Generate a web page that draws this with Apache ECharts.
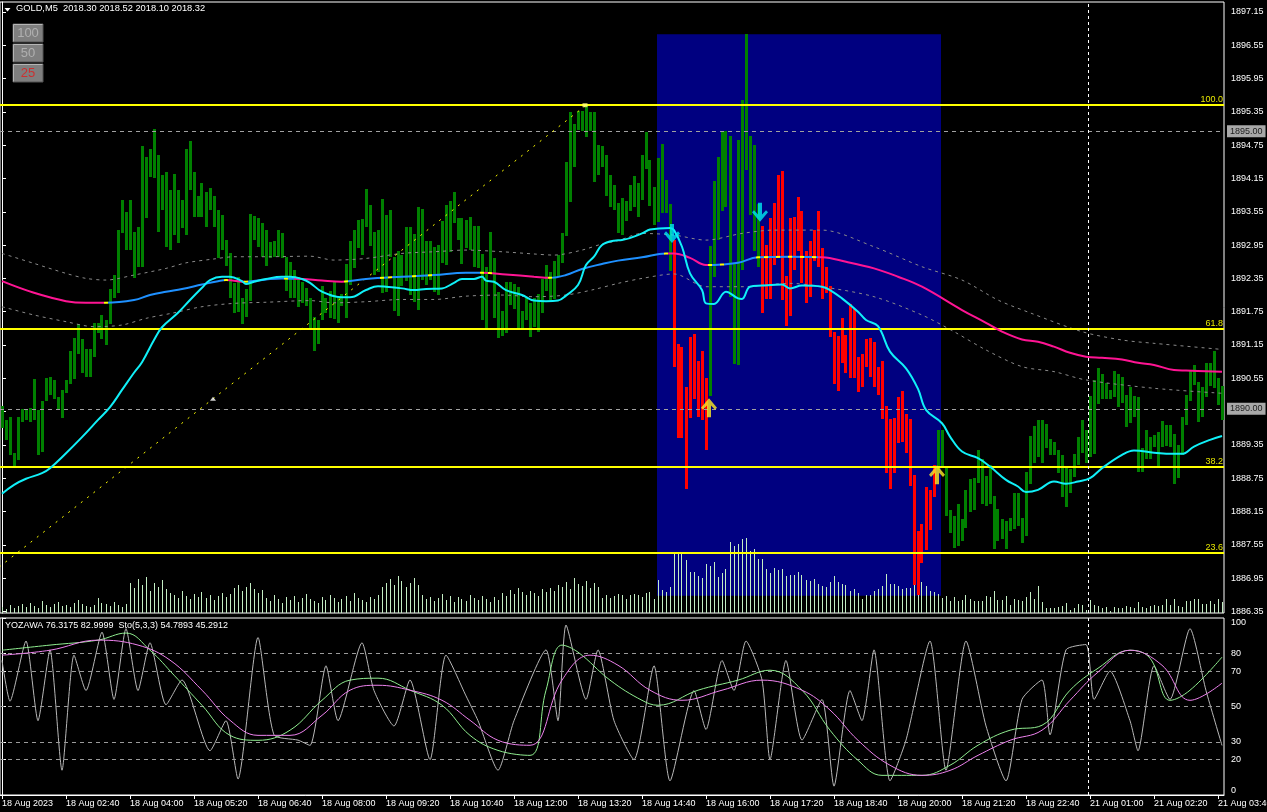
<!DOCTYPE html>
<html><head><meta charset="utf-8">
<script src="https://cdn.jsdelivr.net/npm/echarts@6/dist/echarts.min.js"></script>
<style>html,body{margin:0;padding:0;background:#000;overflow:hidden}#c{width:1267px;height:812px}</style>
</head><body><div id="c"></div>
<script>
// ---------------- DATA ----------------
const barHigh = [
1890.05,1889.80,1889.86,1889.20,1889.86,1889.99,1889.98,1890.01,1890.53,1889.98,
1890.14,1890.56,1890.58,1890.52,1890.22,1890.34,1890.52,1891.04,1891.28,1891.52,
1891.25,1891.07,1891.07,1891.54,1891.55,1891.69,1891.60,1892.15,1892.42,1893.22,
1893.77,1893.55,1893.76,1893.19,1893.28,1894.74,1894.54,1894.68,1895.04,1894.57,
1894.21,1894.27,1893.94,1894.23,1893.95,1893.77,1894.68,1894.83,1894.27,1893.83,
1894.07,1893.91,1893.97,1893.83,1893.59,1893.49,1893.05,1892.80,1892.26,1892.38,
1891.99,1892.15,1893.51,1893.47,1893.43,1893.34,1893.22,1893.01,1893.02,1893.22,
1893.16,1892.74,1892.65,1892.51,1892.38,1892.28,1892.18,1892.00,1891.66,1891.60,
1892.21,1891.99,1892.12,1892.29,1892.02,1892.07,1892.61,1893.02,1893.22,1893.40,
1893.42,1893.96,1893.67,1893.19,1893.22,1893.78,1893.49,1893.58,1892.74,1892.85,
1892.77,1893.28,1893.28,1893.15,1893.64,1893.60,1893.02,1893.02,1892.92,1892.95,
1893.38,1893.67,1893.75,1893.91,1893.44,1893.43,1893.40,1893.46,1893.29,1893.29,
1892.79,1892.56,1893.19,1892.71,1892.11,1891.76,1892.29,1892.29,1892.24,1892.20,
1891.76,1891.99,1891.91,1892.00,1892.07,1892.34,1892.59,1892.47,1892.66,1892.77,
1893.16,1894.45,1895.35,1895.13,1895.37,1895.37,1895.47,1895.35,1895.35,1894.75,
1894.73,1894.57,1894.21,1894.03,1893.71,1893.79,1893.75,1894.03,1894.19,1894.06,
1894.57,1894.98,1894.49,1893.99,1894.52,1894.77,1894.12,1893.69,1893.04,1891.16,
1891.11,1890.39,1891.29,1891.34,1890.86,1891.04,1890.55,1892.93,1894.11,1894.54,
1894.98,1895.01,1894.91,1892.63,1894.85,1895.56,1896.76,1894.91,1894.75,1893.69,
1893.29,1892.96,1893.43,1893.71,1894.21,1894.29,1892.39,1893.43,1893.45,1893.82,
1893.56,1892.85,1893.03,1893.23,1893.56,1892.89,1892.56,1892.21,1891.39,1891.31,
1891.64,1891.33,1891.89,1891.79,1890.93,1890.99,1891.26,1891.27,1891.21,1890.76,
1890.86,1890.05,1889.81,1889.83,1890.21,1890.33,1889.91,1889.81,1888.81,1887.79,
1887.93,1888.59,1888.54,1888.99,1889.61,1889.62,1888.97,1888.18,1888.07,1888.28,
1888.01,1888.54,1888.74,1888.76,1889.26,1889.09,1888.79,1888.99,1888.43,1888.20,
1888.02,1887.98,1888.03,1888.48,1888.48,1888.03,1888.87,1889.51,1889.69,1889.80,
1889.79,1889.73,1889.45,1889.40,1889.25,1889.17,1888.93,1888.91,1889.19,1889.50,
1889.80,1889.62,1890.23,1890.52,1890.73,1890.63,1890.46,1890.34,1890.69,1890.63,
1890.57,1890.24,1890.39,1890.23,1890.21,1889.30,1889.62,1889.50,1889.53,1889.58,
1889.78,1889.71,1889.70,1889.54,1889.34,1889.85,1890.25,1890.68,1890.79,1890.49,
1890.39,1890.82,1890.83,1891.05,1890.55,1890.41];
const barLow = [
1889.65,1889.44,1889.17,1888.96,1889.08,1889.77,1889.80,1889.76,1889.80,1889.17,
1889.23,1890.14,1890.25,1890.17,1889.98,1889.83,1890.29,1890.44,1890.53,1890.98,
1890.64,1890.58,1890.58,1890.94,1891.37,1891.25,1891.15,1891.52,1892.00,1892.08,
1893.17,1892.86,1892.86,1892.35,1892.56,1892.56,1893.43,1894.18,1894.15,1893.19,
1893.58,1892.92,1892.87,1893.13,1892.98,1893.25,1893.13,1893.94,1893.46,1893.45,
1893.45,1893.27,1893.58,1893.27,1892.71,1892.87,1892.57,1892.00,1891.73,1891.75,
1891.52,1891.66,1891.94,1893.05,1892.92,1892.74,1892.57,1892.71,1892.74,1892.74,
1892.71,1892.12,1892.00,1892.00,1891.84,1891.90,1891.85,1891.45,1891.04,1891.17,
1891.60,1891.73,1891.63,1891.61,1891.54,1891.85,1891.64,1892.23,1892.54,1892.90,
1892.77,1893.28,1892.93,1892.42,1892.47,1892.09,1892.11,1892.74,1891.76,1891.67,
1892.21,1892.30,1892.05,1891.93,1891.78,1892.32,1892.23,1892.32,1892.11,1892.05,
1892.62,1892.60,1892.83,1893.34,1893.04,1892.61,1892.90,1892.86,1892.56,1892.54,
1891.60,1891.43,1892.45,1891.63,1891.28,1891.31,1891.36,1891.87,1891.80,1891.43,
1891.43,1891.60,1891.30,1891.48,1891.38,1891.73,1892.12,1891.96,1891.97,1892.38,
1892.62,1893.12,1893.73,1894.36,1895.02,1895.01,1894.89,1895.01,1894.08,1894.21,
1894.36,1893.84,1893.64,1893.58,1893.17,1893.14,1893.39,1893.57,1893.64,1893.46,
1893.76,1894.33,1893.66,1893.31,1893.36,1893.53,1893.53,1892.48,1890.75,1889.47,
1889.47,1888.56,1889.83,1890.18,1889.86,1889.79,1889.25,1890.23,1892.37,1893.04,
1893.56,1893.63,1892.01,1890.81,1890.79,1892.51,1894.31,1893.49,1892.84,1892.55,
1891.73,1891.98,1891.98,1892.59,1892.75,1891.96,1891.49,1891.67,1892.51,1892.84,
1892.26,1891.91,1892.01,1892.66,1892.56,1891.98,1892.09,1891.29,1890.45,1890.33,
1890.83,1890.65,1890.56,1890.56,1890.31,1890.39,1890.75,1890.57,1890.39,1890.24,
1889.81,1888.85,1888.56,1888.85,1889.38,1889.41,1889.21,1888.61,1886.83,1886.64,
1887.23,1887.46,1887.81,1888.41,1888.90,1888.96,1888.07,1887.77,1887.50,1887.52,
1887.62,1887.86,1888.14,1888.17,1888.67,1888.28,1888.24,1888.28,1887.47,1887.61,
1887.65,1887.47,1887.79,1887.83,1887.88,1887.58,1887.70,1888.64,1889.03,1889.14,
1889.02,1889.29,1889.17,1889.16,1888.85,1888.42,1888.23,1888.49,1888.78,1888.98,
1889.21,1889.03,1889.13,1889.19,1890.09,1890.17,1890.17,1890.17,1890.21,1890.04,
1890.10,1889.67,1889.74,1889.85,1888.87,1888.86,1889.09,1889.09,1889.32,1888.96,
1889.32,1889.33,1889.31,1888.64,1888.75,1889.17,1889.70,1890.14,1890.43,1889.76,
1889.86,1890.22,1890.41,1890.38,1890.07,1889.80];
// bar index ranges painted as bearish (red) by the signal indicator
const redRanges = [[168,176],[190,233]];
const volumes = [
60,40,80,50,70,90,60,100,70,50,120,80,60,90,110,70,80,60,100,130,90,70,60,80,150,100,90,70,110,80,60,90,
300,250,340,280,360,220,300,260,330,240,
200,180,150,220,170,140,190,160,210,150,180,130,170,200,160,190,
250,280,220,260,300,240,200,230,
150,120,180,140,100,160,130,170,110,150,190,140,120,100,160,130,180,150,110,140,170,120,200,150,130,110,160,140,180,
260,300,340,280,370,320,260,300,350,280,
180,140,160,120,150,190,130,170,110,160,140,120,180,150,130,170,140,110,160,130,
200,170,230,190,250,210,180,220,200,170,240,210,
250,220,280,260,310,240,350,290,270,320,250,300,260,
152,182,152,171,189,182,145,182,189,182,
163,200,215,145,330,226,215,263,607,589,
607,529,411,411,374,348,492,474,511,363,
400,441,714,670,689,744,755,622,640,541,
541,441,400,455,430,441,367,385,385,411,
381,330,319,337,293,274,263,311,374,307,
293,282,219,245,196,145,182,182,219,245,
274,393,293,293,270,237,252,252,404,455,
307,274,219,208,189,
150,170,120,160,120,130,180,140,120,120,120,170,160,220,130,130,170,80,140,130,
120,160,210,140,270,110,50,50,50,60,70,100,30,50,90,80,30,130,80,70,
50,60,20,60,50,50,70,60,50,110,60,50,70,80,70,80,140,80,140,70,
60,120,120,140,140,90,90,120,90,140,110];
const slowMA = [[0,1892.30],[8,1892.09],[16,1891.94],[21,1891.91],[26,1891.91],[33,1891.96],[37,1892.05],[41,1892.11],[45,1892.16],[50,1892.24],[54,1892.30],[56,1892.32],[61,1892.29],[66,1892.33],[70,1892.35],[75,1892.34],[80,1892.31],[85,1892.29],[91,1892.34],[100,1892.38],[108,1892.41],[116,1892.45],[120,1892.45],[126,1892.42],[133,1892.38],[137,1892.36],[141,1892.41],[145,1892.52],[150,1892.61],[154,1892.67],[160,1892.73],[166,1892.80],[168,1892.80],[172,1892.72],[176,1892.59],[180,1892.60],[184,1892.63],[189,1892.73],[197,1892.74],[205,1892.73],[211,1892.65],[218,1892.53],[224,1892.38],[230,1892.20],[240,1891.78],[246,1891.55],[250,1891.39],[255,1891.25],[259,1891.21],[263,1891.12],[267,1891.01],[271,1890.94],[275,1890.92],[280,1890.89],[284,1890.83],[288,1890.79],[293,1890.70],[296,1890.69],[305,1890.67]];
const slowTrend = [[0,26,'down'],[26,56,'up'],[56,61,'down'],[61,73,'up'],[73,86,'down'],[86,120,'up'],[120,137,'down'],[137,166,'up'],[166,177,'down'],[177,204,'up'],[204,306,'down']];
const slowFlips = [26,56,61,71,86,95,97,103,107,120,122,137,166,177,180,189,191,194,197,200,203];
const fastMA = [[0,1888.47],[3,1888.63],[6,1888.74],[10,1888.84],[12,1888.93],[16,1889.20],[20,1889.49],[24,1889.80],[27,1890.03],[30,1890.34],[33,1890.65],[35,1890.84],[38,1891.24],[40,1891.47],[44,1891.73],[47,1891.96],[50,1892.18],[52,1892.32],[55,1892.38],[57,1892.38],[60,1892.30],[61,1892.25],[63,1892.29],[66,1892.34],[70,1892.38],[72,1892.38],[75,1892.34],[77,1892.27],[80,1892.11],[85,1892.01],[87,1892.01],[91,1892.14],[94,1892.21],[96,1892.20],[100,1892.17],[103,1892.14],[106,1892.16],[110,1892.17],[113,1892.27],[115,1892.34],[118,1892.34],[120,1892.38],[121,1892.31],[123,1892.29],[126,1892.14],[130,1892.05],[133,1891.95],[136,1891.94],[139,1891.95],[141,1892.04],[144,1892.23],[146,1892.59],[148,1892.74],[150,1892.95],[153,1893.03],[155,1893.04],[160,1893.16],[162,1893.23],[167,1893.26],[168,1893.22],[170,1892.92],[172,1892.44],[175,1892.14],[176,1891.90],[178,1891.89],[181,1892.11],[184,1891.99],[185,1891.98],[187,1892.20],[190,1892.22],[195,1892.24],[197,1892.17],[200,1892.22],[205,1892.20],[207,1892.14],[210,1891.99],[214,1891.75],[216,1891.60],[219,1891.49],[222,1891.03],[226,1890.73],[229,1890.36],[231,1889.98],[235,1889.74],[237,1889.50],[240,1889.23],[244,1889.11],[247,1888.96],[251,1888.72],[254,1888.60],[256,1888.50],[259,1888.54],[263,1888.69],[266,1888.65],[269,1888.69],[272,1888.75],[275,1888.93],[280,1889.17],[283,1889.25],[288,1889.21],[293,1889.19],[295,1889.19],[298,1889.32],[302,1889.44],[305,1889.51]];
const bandUpper = [[0,1892.80],[8,1892.62],[16,1892.44],[21,1892.35],[26,1892.32],[33,1892.41],[41,1892.53],[46,1892.63],[53,1892.70],[58,1892.74],[66,1892.74],[77,1892.75],[83,1892.68],[91,1892.71],[100,1892.80],[108,1892.83],[116,1892.86],[125,1892.83],[133,1892.79],[138,1892.77],[145,1892.86],[150,1892.97],[154,1893.03],[160,1893.16],[168,1893.13],[176,1893.04],[185,1893.16],[193,1893.22],[205,1893.22],[218,1892.92],[230,1892.56],[240,1892.32],[249,1891.96],[257,1891.73],[270,1891.39],[280,1891.24],[288,1891.18],[305,1891.07]];
const bandLower = [[0,1891.84],[8,1891.69],[16,1891.57],[23,1891.48],[30,1891.51],[36,1891.63],[43,1891.73],[50,1891.84],[58,1891.90],[66,1891.92],[77,1891.95],[83,1891.91],[91,1891.93],[100,1891.97],[108,1891.97],[116,1892.03],[125,1892.05],[133,1892.02],[141,1892.05],[148,1892.15],[154,1892.26],[160,1892.35],[168,1892.43],[176,1892.20],[185,1892.20],[197,1892.26],[205,1892.20],[218,1892.02],[230,1891.69],[238,1891.39],[246,1891.06],[255,1890.76],[263,1890.67],[271,1890.52],[288,1890.37],[305,1890.28]];
const fibHigh = 1895.47, fibLow = 1884.92;
const fibLevels = [100, 61.8, 38.2, 23.6];
const fibTrend = [[-40,1884.92],[146,1895.47]];
const hLines = [1895.00, 1890.00];
const zoneRect = [163.75, 1896.75, 234.75, 1886.63];
const arrowsDown = [[167.5,1893.16],[189.5,1893.54]];
const arrowsUp = [[176.75,1890.02],[233.75,1888.81]];
const whiteMark = [[52.75,1890.18]];
const yellowMark = [[145.75,1895.47]];
const daySeparator = 271.6;
const priceTicks = [1886.35,1886.95,1887.55,1888.15,1888.75,1889.35,1889.95,1890.55,1891.15,1891.75,1892.35,1892.95,1893.55,1894.15,1894.75,1895.35,1895.95,1896.55,1897.15];
const oscTicks = [0,20,30,50,70,80,100];
const oscLevels = [20,30,50,70,80];
const xTickLabels = ['18 Aug 2023','18 Aug 02:40','18 Aug 04:00','18 Aug 05:20','18 Aug 06:40','18 Aug 08:00','18 Aug 09:20','18 Aug 10:40','18 Aug 12:00','18 Aug 13:20','18 Aug 14:40','18 Aug 16:00','18 Aug 17:20','18 Aug 18:40','18 Aug 20:00','18 Aug 21:20','18 Aug 22:40','21 Aug 01:00','21 Aug 02:20','21 Aug 03:40'];
const oscGray = [[0,76],[2,53],[6,87],[9,42],[12,82],[15,14],[18,79],[21,59],[25,92],[28,54],[31,94],[34,59],[37,86],[41,51],[45,65],[52,25],[56,42],[59,9],[64,89],[68,34],[74,31],[77,28],[81,73],[84,42],[90,86],[93,59],[98,39],[102,65],[107,20],[111,79],[116,56],[119,42],[124,14],[128,42],[136,82],[139,42],[141,96],[146,54],[149,82],[153,42],[158,20],[163,73],[167,8],[173,59],[176,37],[180,76],[183,59],[186,87],[190,65],[192,20],[196,76],[200,31],[205,54],[208,5],[212,59],[215,42],[218,82],[222,8],[226,31],[232,87],[236,14],[241,87],[246,39],[251,8],[255,54],[260,65],[262,34],[266,82],[271,85],[273,54],[277,70],[282,42],[284,25],[288,73],[292,54],[297,94],[301,59],[305,28]];
const oscGreen = [[0,81.8],[12,84.7],[24,87.5],[31,91.5],[37,81.8],[43,67.7],[50,50.7],[57,33.7],[64,30.9],[72,36.6],[80,53.5],[87,64.9],[94,66.0],[102,59.2],[110,50.7],[117,33.7],[124,25.2],[132,22.4],[136,59.2],[140,84.7],[144,80.7],[152,64.9],[160,53.5],[164,50.7],[174,59.2],[184,64.9],[192,70.5],[200,59.2],[207,36.6],[214,19.6],[220,11.1],[230,11.1],[237,16.8],[244,28.1],[252,36.6],[260,39.4],[267,59.2],[274,71.6],[282,81.8],[287,77.3],[292,53.5],[297,59.2],[305,77.9]];
const oscViolet = [[0,79.0],[12,81.8],[24,87.5],[34,84.7],[42,76.2],[50,59.2],[57,42.2],[64,33.7],[72,33.7],[80,45.0],[87,59.2],[94,62.0],[102,59.2],[110,53.5],[117,42.2],[124,30.9],[132,28.1],[140,64.9],[147,79.0],[154,73.3],[162,59.2],[170,53.5],[180,59.2],[190,64.9],[200,59.2],[207,48.0],[214,30.9],[222,16.8],[230,11.1],[237,13.9],[244,22.4],[252,30.9],[260,36.6],[267,53.5],[274,69.4],[282,81.8],[290,73.3],[297,53.5],[305,63.2]];

// ---------------- CHART ----------------
const FONT = 'Liberation Sans';
const N = barHigh.length;
const cats = barHigh.map((_, i) => String(i));
const isRed = i => redRanges.some(r => i >= r[0] && i <= r[1]);
const priceMin = 1886.321, priceMax = 1897.330;
const volMax = 6110;

const COL = {down:'#ff1493', up:'#1e90ff', flip:'#ffff00'};
function slowPieces(){
  const pts = new Set([-1, N]);
  slowTrend.forEach(s => { pts.add(s[0]); pts.add(s[1]); });
  slowFlips.forEach(f => { pts.add(f - 0.45); pts.add(f + 0.45); });
  const arr = [...pts].sort((a,b)=>a-b);
  const out = [];
  for (let k = 0; k < arr.length - 1; k++) {
    const u = arr[k], v = arr[k+1], m = (u+v)/2;
    let c = COL.down;
    const t = slowTrend.find(s => m >= s[0] && m < s[1]);
    if (t) c = COL[t[2]];
    if (slowFlips.some(f => Math.abs(m - f) < 0.45)) c = COL.flip;
    if (out.length && out[out.length-1].color === c) out[out.length-1].lt = v;
    else out.push({gte:u, lt:v, color:c});
  }
  return out;
}

const downPath = 'path://M6,0 L10,0 L10,11 L14,7 L16,9 L8,18 L0,9 L2,7 L6,11 Z';
const upPath = 'path://M6,18 L10,18 L10,7 L14,11 L16,9 L8,0 L0,9 L2,11 L6,7 Z';

const fibMarks = fibLevels.map(l => ({
  yAxis: fibLow + (fibHigh - fibLow) * l / 100, name: l.toFixed(1),
  lineStyle: {color:'#ffff00', width:2, type:'solid'},
  label: {show:true, position:'insideEndTop', formatter:'{b}', color:'#e6e600', fontSize:9, fontFamily:FONT, distance:[1,1]}
}));
const hMarks = hLines.map(v => ({
  yAxis: v,
  lineStyle: {color:'#a0a0a0', width:1, type:[4,4]},
  label: {show:true, position:'end', formatter: v.toFixed(2), color:'#202020', backgroundColor:'#a8a8a8',
    fontSize:9, fontFamily:FONT, padding:[2,3,1,3], distance:3}
}));
const sepMark = {xAxis: daySeparator, lineStyle:{color:'#ffffff', width:1, type:[3,3]}, label:{show:false}};

const option = {
  backgroundColor: '#000000',
  animation: false,
  textStyle: {fontFamily: FONT},
  grid: [
    {left:0, top:2, width:1224, height:611, show:true, borderColor:'#ffffff', borderWidth:1, backgroundColor:'transparent', containLabel:false, outerBoundsMode:'none'},
    {left:0, top:618, width:1224, height:177, show:true, borderColor:'#ffffff', borderWidth:1, backgroundColor:'transparent', containLabel:false, outerBoundsMode:'none'}
  ],
  xAxis: [
    {type:'category', gridIndex:0, data:cats, show:false, boundaryGap:true},
    {type:'value', gridIndex:0, min:-0.5, max:N-0.5, show:false},
    {type:'category', gridIndex:1, data:cats, boundaryGap:true, position:'bottom',
      axisLine:{show:true, lineStyle:{color:'#ffffff'}},
      axisTick:{show:true, alignWithLabel:true, length:4, lineStyle:{color:'#ffffff'}, interval:(i)=> i % 16 === 0},
      axisLabel:{show:true, interval:(i)=> i % 16 === 0, color:'#ffffff', fontSize:9, fontFamily:FONT, align:'left', margin:4,
        hideOverlap:false, formatter:(v, i) => xTickLabels[Math.round(i/16)] || ''},
      splitLine:{show:false}},
    {type:'value', gridIndex:1, min:-0.5, max:N-0.5, show:false}
  ],
  yAxis: [
    {type:'value', gridIndex:0, position:'right', min:priceMin, max:priceMax, scale:true,
      axisLine:{show:true, lineStyle:{color:'#ffffff'}},
      axisTick:{show:true, length:4, lineStyle:{color:'#ffffff'}, customValues: priceTicks},
      axisLabel:{show:true, color:'#ffffff', fontSize:9, fontFamily:FONT, margin:7, customValues: priceTicks,
        formatter:(v)=> v.toFixed(2)},
      splitLine:{show:false}},
    {type:'value', gridIndex:0, min:0, max:volMax, show:false},
    {type:'value', gridIndex:1, position:'right', min:0, max:100,
      axisLine:{show:true, lineStyle:{color:'#ffffff'}},
      axisTick:{show:true, length:4, lineStyle:{color:'#ffffff'}, customValues: oscTicks},
      axisLabel:{show:true, color:'#ffffff', fontSize:9, fontFamily:FONT, margin:7, customValues: oscTicks,
        verticalAlignMinLabel:'bottom', verticalAlignMaxLabel:'top'},
      splitLine:{show:false}}
  ],
  visualMap: [{type:'piecewise', show:false, dimension:0, seriesIndex:6, pieces: slowPieces(), outOfRange:{color:COL.down}}],
  series: [
    {type:'line', xAxisIndex:1, yAxisIndex:0, data:[[zoneRect[0], zoneRect[1]]], showSymbol:false, lineStyle:{opacity:0}, z:1, silent:true,
      markArea:{silent:true, itemStyle:{color:'#000080', opacity:1}, data:[[{xAxis:zoneRect[0], yAxis:zoneRect[1]},{xAxis:zoneRect[2], yAxis:zoneRect[3]}]]}},
    {type:'custom', xAxisIndex:0, yAxisIndex:1, z:2, silent:true, clip:true,
      data: volumes.map((v,i)=>[i,v]), encode:{x:0, y:1},
      renderItem:(p, api)=>{
        const t = api.coord([api.value(0), api.value(1)]);
        const b = api.coord([api.value(0), 0]);
        const x = Math.floor(t[0]);
        const y = Math.round(t[1]);
        return {type:'rect', shape:{x:x, y:y, width:1, height:Math.max(1, Math.round(b[1]) - y)}, style:{fill:'#c4eec4'}};
      }},
    {type:'custom', xAxisIndex:0, yAxisIndex:0, z:3, silent:true, clip:true,
      data: barHigh.map((h,i)=>[i, barLow[i], h, isRed(i)?1:0]), encode:{x:0, y:[1,2]},
      renderItem:(p, api)=>{
        const t = api.coord([api.value(0), api.value(2)]);
        const b = api.coord([api.value(0), api.value(1)]);
        const x = Math.round(t[0] - 1.5);
        const y = Math.round(t[1]);
        return {type:'rect', shape:{x:x, y:y, width:3, height:Math.max(1, Math.round(b[1]) - y)},
          style:{fill: api.value(3) ? '#ff0000' : '#008000'}};
      }},
    {type:'line', xAxisIndex:1, yAxisIndex:0, data:bandUpper, showSymbol:false, smooth:0.3, z:4, silent:true,
      lineStyle:{color:'#8a8a8a', width:1, type:[3,4]}},
    {type:'line', xAxisIndex:1, yAxisIndex:0, data:bandLower, showSymbol:false, smooth:0.3, z:4, silent:true,
      lineStyle:{color:'#8a8a8a', width:1, type:[3,4]}},
    {type:'line', xAxisIndex:1, yAxisIndex:0, data:fibTrend, showSymbol:false, z:5, silent:true, clip:true,
      lineStyle:{color:'#ffff00', width:1, type:[2,6]},
      markLine:{silent:true, symbol:['none','none'], precision:2, data:[...fibMarks, ...hMarks, sepMark]}},
    {type:'line', xAxisIndex:1, yAxisIndex:0, data:slowMA, showSymbol:false, smooth:0.4, z:6, silent:true,
      lineStyle:{width:2}},
    {type:'line', xAxisIndex:1, yAxisIndex:0, data:fastMA, showSymbol:false, smooth:0.4, z:6, silent:true,
      lineStyle:{color:'#10f0f8', width:2}},
    {type:'scatter', xAxisIndex:1, yAxisIndex:0, data:arrowsDown, symbol:downPath, symbolSize:[16,19], z:7, silent:true,
      itemStyle:{color:'#00e8f0'}},
    {type:'scatter', xAxisIndex:1, yAxisIndex:0, data:arrowsUp, symbol:upPath, symbolSize:[16,19], z:7, silent:true,
      itemStyle:{color:'#ffee22'}},
    {type:'scatter', xAxisIndex:1, yAxisIndex:0, data:whiteMark, symbol:'triangle', symbolSize:[6,4], z:7, silent:true,
      itemStyle:{color:'#ffffff'}},
    {type:'scatter', xAxisIndex:1, yAxisIndex:0, data:yellowMark, symbol:'rect', symbolSize:[5,4], z:7, silent:true,
      itemStyle:{color:'#ffff80'}},
    {type:'line', xAxisIndex:3, yAxisIndex:2, data:oscGray, showSymbol:false, smooth:0.2, z:4, silent:true,
      lineStyle:{color:'#b8b8b8', width:1},
      markLine:{silent:true, symbol:['none','none'], label:{show:false},
        data:[...oscLevels.map(v=>({yAxis:v, lineStyle:{color:'#9a9a9a', width:1, type:[4,4]}})), sepMark]}},
    {type:'line', xAxisIndex:3, yAxisIndex:2, data:oscGreen, showSymbol:false, smooth:0.4, z:5, silent:true,
      lineStyle:{color:'#90ee90', width:1}},
    {type:'line', xAxisIndex:3, yAxisIndex:2, data:oscViolet, showSymbol:false, smooth:0.4, z:5, silent:true,
      lineStyle:{color:'#ee82ee', width:1}}
  ],
  graphic: [
    {type:'polygon', shape:{points:[[4.5,8],[10.5,8],[7.5,11.5]]}, style:{fill:'#ffffff'}, z:100},
    {type:'text', left:16, top:4, style:{text:'GOLD,M5  2018.30 2018.52 2018.10 2018.32', fill:'#ffffff', font:'9.3px "Liberation Sans"'}, z:100},
    {type:'group', left:11, top:22, z:100, children:[
      {type:'rect', shape:{x:0,y:0,width:30,height:18}, style:{fill:'#7f7f7f', stroke:'#555555', lineWidth:1}},
      {type:'polyline', shape:{points:[[0.5,17.5],[0.5,0.5],[29.5,0.5]]}, style:{stroke:'#b5b5b5', lineWidth:1, fill:null}},
      {type:'text', x:15, y:9.5, style:{text:'100', fill:'#b0b0b0', font:'13px "Liberation Sans"', align:'center', verticalAlign:'middle'}},
      {type:'rect', shape:{x:0,y:20,width:30,height:18}, style:{fill:'#7f7f7f', stroke:'#555555', lineWidth:1}},
      {type:'polyline', shape:{points:[[0.5,37.5],[0.5,20.5],[29.5,20.5]]}, style:{stroke:'#b5b5b5', lineWidth:1, fill:null}},
      {type:'text', x:15, y:29.5, style:{text:'50', fill:'#b0b0b0', font:'13px "Liberation Sans"', align:'center', verticalAlign:'middle'}},
      {type:'rect', shape:{x:0,y:40,width:30,height:18}, style:{fill:'#7f7f7f', stroke:'#555555', lineWidth:1}},
      {type:'polyline', shape:{points:[[0.5,57.5],[0.5,40.5],[29.5,40.5]]}, style:{stroke:'#b5b5b5', lineWidth:1, fill:null}},
      {type:'text', x:15, y:49.5, style:{text:'25', fill:'#cc3030', font:'13px "Liberation Sans"', align:'center', verticalAlign:'middle'}}
    ]},
    {type:'text', left:5, top:621, style:{text:'YOZAWA 76.3175 82.9999  Sto(5,3,3) 54.7893 45.2912', fill:'#ffffff', font:'9px "Liberation Sans"'}, z:100}
  ]
};
const chart = echarts.init(document.getElementById('c'));
chart.setOption(option);
</script>
</body></html>
